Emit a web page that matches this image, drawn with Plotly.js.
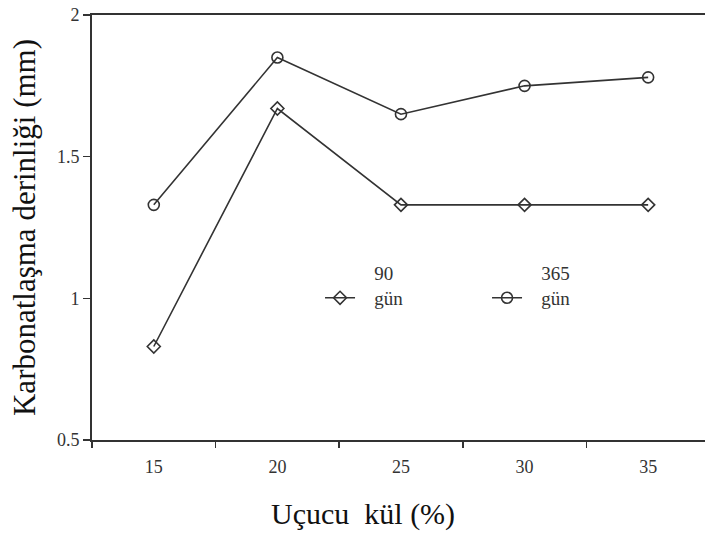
<!DOCTYPE html>
<html>
<head>
<meta charset="utf-8">
<script src="https://cdn.plot.ly/plotly-3.0.1.min.js"></script>
<style>
  html, body { margin: 0; padding: 0; background: #fff; }
  #chart { width: 705px; height: 534px; }
</style>
</head>
<body>
<div id="chart"></div>
<script>
// Fly ash content (%) and carbonation depth (mm) at two curing ages
const ucucuKul = [15, 20, 25, 30, 35];
const gun90 = [0.83, 1.67, 1.33, 1.33, 1.33];
const gun365 = [1.33, 1.85, 1.65, 1.75, 1.78];
const seriesNames = ['90<br>gün', '365<br>gün'];

// Tick marks sit between the category labels
const tickMarks = [12.5, 17.5, 22.5, 27.5, 32.5];
const tickLabels = ['15', '20', '25', '30', '35'];
const yTicks = [0.5, 1, 1.5, 2];
const yTickLabels = ['0.5', '1', '1.5', '2'];

const ink = '#333333';
const serif = 'Liberation Serif';
const xRange = [12.5, 37.3];

const pad = '\u00a0\u00a0\u00a0';
const legendName = s => pad + s.replace('<br>', '<br>' + pad);

const traces = [
  {
    x: ucucuKul, y: gun90, name: legendName(seriesNames[0]),
    mode: 'lines+markers', xaxis: 'x', yaxis: 'y',
    line: { color: ink, width: 1.6 },
    marker: { symbol: 'diamond-open', size: 10, color: ink, line: { width: 1.6, color: ink } }
  },
  {
    x: ucucuKul, y: gun365, name: legendName(seriesNames[1]),
    mode: 'lines+markers', xaxis: 'x', yaxis: 'y',
    line: { color: ink, width: 1.6 },
    marker: { symbol: 'circle-open', size: 11, color: ink, line: { width: 1.6, color: ink } }
  },
  // Invisible trace that brings the label axis into the layout
  { x: ucucuKul, y: gun90, xaxis: 'x2', yaxis: 'y', mode: 'none', showlegend: false, hoverinfo: 'skip' }
];

const layout = {
  width: 705, height: 534,
  margin: { l: 92, r: 0, t: 15, b: 94, autoexpand: false },
  paper_bgcolor: '#fff', plot_bgcolor: '#fff',
  font: { family: serif, color: ink },
  showlegend: true,
  legend: {
    orientation: 'h', x: 0.372, y: 0.363, xanchor: 'left', yanchor: 'middle',
    bgcolor: 'rgba(0,0,0,0)', font: { family: serif, size: 19, color: ink },
    entrywidth: 122, entrywidthmode: 'pixels', valign: 'bottom'
  },
  xaxis: {
    range: xRange, showgrid: false, zeroline: false,
    showline: true, linecolor: ink, linewidth: 2, mirror: true,
    tickmode: 'array', tickvals: tickMarks, ticks: 'outside', ticklen: 6,
    tickwidth: 1.5, tickcolor: ink, showticklabels: false
  },
  xaxis2: {
    overlaying: 'x', side: 'bottom', anchor: 'y', range: xRange,
    showgrid: false, zeroline: false, showline: false,
    tickmode: 'array', tickvals: ucucuKul, ticktext: tickLabels, ticks: '',
    ticklabelstandoff: 14,
    tickfont: { family: serif, size: 18, color: ink }
  },
  yaxis: {
    range: [0.5, 2], showgrid: false, zeroline: false,
    showline: true, linecolor: ink, linewidth: 2,
    tickmode: 'array', tickvals: yTicks, ticktext: yTickLabels,
    ticks: 'outside', ticklen: 7, tickwidth: 1.5, tickcolor: ink,
    tickfont: { family: serif, size: 18, color: ink },
    title: { text: 'Karbonatlaşma derinliği (mm)', font: { family: serif, size: 31, color: '#111' }, standoff: 12 }
  },
  annotations: [
    {
      text: 'Uçucu  kül (%)', xref: 'paper', yref: 'paper',
      x: 0.442, y: -0.175, xanchor: 'center', yanchor: 'middle', showarrow: false,
      font: { family: serif, size: 30, color: '#111' }
    }
  ]
};

Plotly.newPlot('chart', traces, layout, { staticPlot: true, displayModeBar: false });
</script>
</body>
</html>
